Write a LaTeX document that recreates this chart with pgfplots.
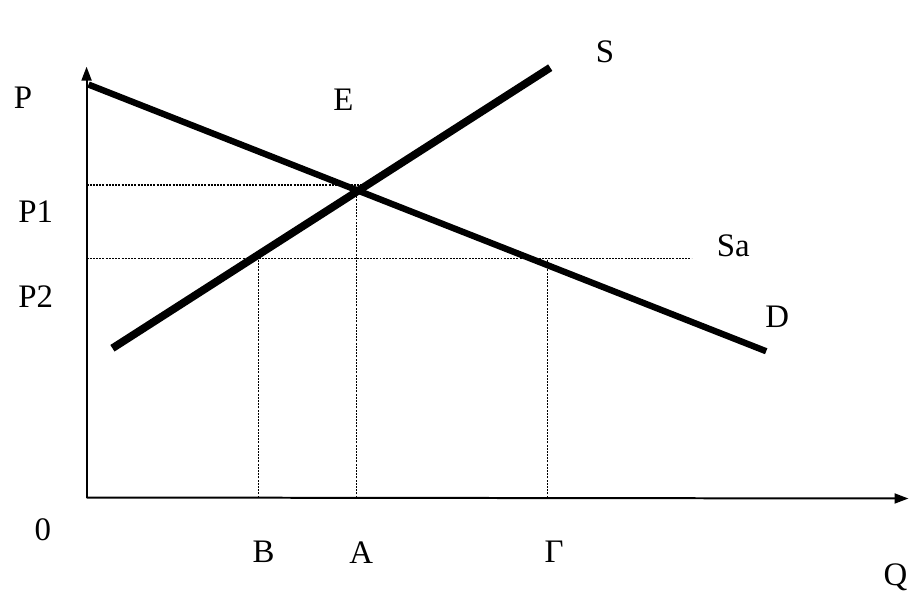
\documentclass[border=0pt]{standalone}
\usepackage{fontspec}
\setmainfont{Liberation Serif}
\usepackage{pgfplots}
\pgfplotsset{compat=1.18}
\usetikzlibrary{arrows.meta}
\tikzset{lbl/.style={font=\fontsize{16.5}{20}\selectfont}}
\begin{document}
\begin{tikzpicture}
\begin{axis}[
    scale only axis,
    width=457pt, height=300pt,
    xmin=0, xmax=914, ymin=0, ymax=600,
    hide axis,
    clip=false,
  ]
  % keeps the page the size of the whole frame
  \addplot[draw=none] coordinates {(0,0) (914,600)};
  % axes
  \addplot[line width=1pt, -{Triangle[length=7pt,width=5pt]}] coordinates {(87,100) (87,533)};
  \addplot[line width=1pt, -{Triangle[length=7pt,width=5pt]}] coordinates {(87,100) (913,99)};
  % guide lines
  \addplot[line width=0.7pt, dash pattern=on 1pt off 0.6pt] coordinates {(87,414) (363,414)};
  \addplot[line width=0.7pt, dash pattern=on 1pt off 0.6pt] coordinates {(87,340) (695,340)};
  \addplot[line width=0.7pt, dash pattern=on 1pt off 0.6pt] coordinates {(260,100) (260,341)};
  \addplot[line width=0.7pt, dash pattern=on 1pt off 0.6pt] coordinates {(358,100) (358,408)};
  \addplot[line width=0.7pt, dash pattern=on 1pt off 0.6pt] coordinates {(550,100) (550,340)};
  % demand and supply
  \addplot[line width=3.2pt] coordinates {(89,515) (770,247)};
  \addplot[line width=3.9pt] coordinates {(113,250) (553,532)};
  % labels
  \node[lbl] at (axis cs:23,502) {P};
  \node[lbl] at (axis cs:345,500) {E};
  \node[lbl] at (axis cs:608,548) {S};
  \node[lbl] at (axis cs:36,387) {P1};
  \node[lbl] at (axis cs:737,353) {Sa};
  \node[lbl] at (axis cs:36,302) {P2};
  \node[lbl] at (axis cs:781,282) {D};
  \node[lbl] at (axis cs:43,68) {0};
  \node[lbl] at (axis cs:265,45) {B};
  \node[lbl] at (axis cs:363,45) {A};
  \node[lbl] at (axis cs:557,45) {Γ};
  \node[lbl] at (axis cs:900,20) {Q};
\end{axis}
\end{tikzpicture}
\end{document}
